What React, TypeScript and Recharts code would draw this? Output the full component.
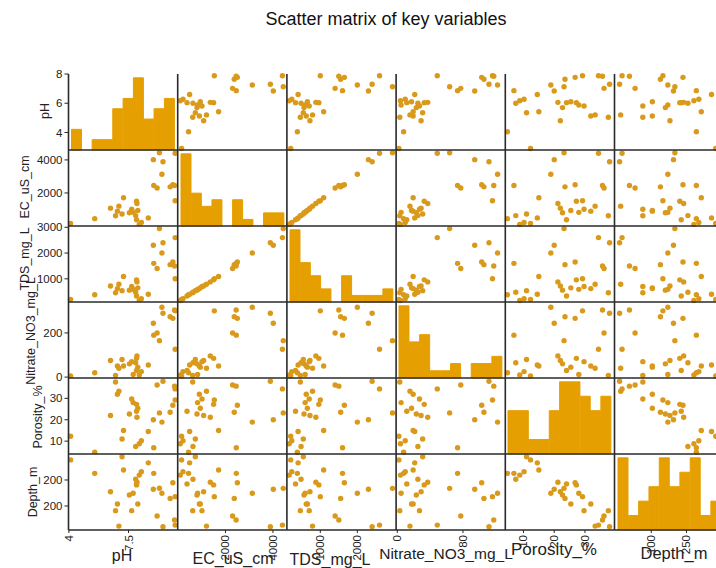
import React from 'react';
import { ScatterChart, Scatter, BarChart, Bar, XAxis, YAxis } from 'recharts';

const variables = ['pH', 'EC_uS_cm', 'TDS_mg_L', 'Nitrate_NO3_mg_L', 'Porosity_%', 'Depth_m'];

// one entry per sample, same order in every array
const ph = [4.05, 6.86, 6.0, 6.17, 6.27, 5.35, 2.9, 6.6, 5.42, 7.25, 6.84, 6.06, 4.8, 5.7, 7.13, 7.64, 6.04, 6.1, 7.77, 6.04, 5.88, 7.88, 5.81, 5.13, 5.2, 7.88, 7.85, 7.02, 5.04, 7.3];
const ec = [445, 2455, 630, 97, 210, 730, 150, 490, 1710, 3130, 4015, 1360, 1080, 800, 4435, 2370, 380, 940, 2500, 1500, 825, 1530, 1010, 900, 1200, 4400, 2450, 2300, 620, 3890];
const tds = [380, 1600, 480, 160, 230, 540, 200, 400, 1090, 2000, 2300, 880, 720, 560, 2950, 1550, 330, 650, 1650, 960, 590, 1000, 700, 620, 790, 2600, 1500, 1400, 460, 2400];
const nitrate = [20, 190, 65, 10, 25, 80, 5, 55, 50, 316, 244, 96, 75, 60, 165, 273, 30, 45, 266, 85, 12, 300, 70, 50, 40, 126, 304, 200, 8, 289];
const porosity = [4.8, 6.9, 7.5, 8.8, 10.2, 11.0, 12.3, 14.5, 15.0, 18.9, 20.0, 21.2, 22.0, 22.7, 23.2, 23.5, 24.0, 25.4, 26.8, 27.2, 28.0, 29.2, 29.7, 31.9, 33.3, 34.4, 35.7, 36.2, 37.6, 38.0];
const depth = [241, 241, 217, 234, 248, 309, 296, 284, 255, 160, 176, 205, 166, 153, 180, 139, 198, 116, 203, 194, 160, 146, 89, 116, 26, 30, 51, 67, 89, 23];

// histogram counts on the diagonal (10 bins each)
const phCounts = [2, 0, 1, 1, 4, 5, 7, 3, 4, 5];
const ecCounts = [11, 5, 3, 4, 0, 4, 1, 0, 2, 2];
const tdsCounts = [11, 6, 4, 2, 0, 4, 1, 1, 1, 2];
const nitrateCounts = [10, 5, 6, 1, 1, 2, 0, 2, 2, 3];
const porosityCounts = [3, 3, 1, 1, 3, 5, 5, 4, 3, 4];
const depthCounts = [5, 1, 2, 3, 5, 3, 4, 5, 1, 2];

const domains: [number, number][] = [[2.8, 8], [0, 4600], [100, 3050], [-4, 340], [4, 39.5], [10, 320]];

// tick values and the labels printed at them
const yTicks = [[8, 6, 4], [4000, 2000], [3000, 2000, 1000], [200, 0], [30, 20, 10], [214, 108]];
const yTickLabels = [['8', '6', '4'], ['4000', '2000'], ['3000', '2000', '1000'], ['200', '0'], ['30', '20', '10'], ['200', '200']];
const xTicks = [[2.82, 5.66], [2000, 4000], [1000, 2000], [0, 207], [10, 20, 30], [113, 213]];
const xTickLabels = [['4', '7.5'], ['2000', '4000'], ['1000', '2000'], ['0', '80'], ['10', '20', '30'], ['100', '250']];

const columns = [ph, ec, tds, nitrate, porosity, depth];
const counts = [phCounts, ecCounts, tdsCounts, nitrateCounts, porosityCounts, depthCounts];

const LEFT = 68.5;
const TOP = 74;
const PW = 109.2;
const PH = 76;
const AXIS_W = 68.5;
const AXIS_H = 38;
const BAR = '#E69F00';
const DOT = '#D99A1C';
const INK = '#222';
const FONT = '"Liberation Sans", Arial, sans-serif';

const yTitles = [
  { x: 45, y: 111 },
  { x: 25, y: 187 },
  { x: 25, y: 259 },
  { x: 31, y: 331 },
  { x: 38, y: 417 },
  { x: 33, y: 492 },
];
const xTitles = [
  { x: 122, y: 561, size: 16 },
  { x: 233, y: 564, size: 16 },
  { x: 330, y: 565, size: 16 },
  { x: 446, y: 559, size: 15.5 },
  { x: 554, y: 555, size: 17 },
  { x: 674, y: 559, size: 16.5 },
];

const makeXTick = (labels: string[]) => (props: any) => {
  const { x, y, index } = props;
  return (
    <text
      x={x}
      y={y}
      transform={`rotate(-90 ${x} ${y})`}
      textAnchor="end"
      dominantBaseline="central"
      fontSize={11.5}
      fill={INK}
    >
      {labels[index]}
    </text>
  );
};

const yAxisProps = (row: number) => ({
  type: 'number' as const,
  domain: domains[row],
  allowDataOverflow: true,
  ticks: yTicks[row],
  interval: 0 as const,
  width: AXIS_W,
  axisLine: false,
  tickLine: { stroke: INK },
  tickSize: 4,
  tickMargin: 2,
  tick: { fontSize: 11.5, fill: INK },
  tickFormatter: (_v: number, i: number) => yTickLabels[row][i],
});

const xAxisProps = (col: number) => ({
  type: 'number' as const,
  domain: domains[col],
  allowDataOverflow: true,
  ticks: xTicks[col],
  interval: 0 as const,
  height: AXIS_H,
  axisLine: false,
  tickLine: { stroke: INK },
  tickSize: 3,
  tickMargin: 2,
  tick: makeXTick(xTickLabels[col]),
});

const margin = { top: 0, right: 0, bottom: 0, left: 0 };
const layer: React.CSSProperties = { position: 'absolute', left: 0, top: 0 };

const Histogram = ({ row, width, withY }: { row: number; width: number; withY: boolean }) => {
  const bins = counts[row].map((c, k) => ({ bin: k, count: c }));
  const max = Math.max(...counts[row]);
  return (
    <BarChart width={width} height={PH} data={bins} margin={margin} barCategoryGap={0} barGap={0}>
      {withY && <YAxis yAxisId="scale" {...yAxisProps(row)} />}
      <XAxis xAxisId="bins" dataKey="bin" hide height={0} padding={{ left: 3, right: 3 }} />
      <YAxis yAxisId="count" hide width={0} domain={[0, max / 0.95]} />
      <Bar
        xAxisId="bins"
        yAxisId="count"
        dataKey="count"
        fill={BAR}
        stroke={BAR}
        strokeWidth={1}
        isAnimationActive={false}
      />
    </BarChart>
  );
};

const Panel = ({ row, col }: { row: number; col: number }) => {
  const hasY = col === 0;
  const hasX = row === 5;
  const width = PW + (hasY ? AXIS_W : 0);
  const height = PH + (hasX ? AXIS_H : 0);
  const left = LEFT + col * PW - (hasY ? AXIS_W : 0);
  const top = TOP + row * PH;

  let content;
  if (row === col) {
    content = (
      <>
        <div style={layer}>
          <Histogram row={row} width={width} withY={hasY} />
        </div>
        {hasX && (
          // scale of the variable along the bottom edge, drawn by an empty scatter layer
          <div style={layer}>
            <ScatterChart width={width} height={height} margin={margin}>
              <XAxis dataKey="x" {...xAxisProps(col)} />
              <YAxis dataKey="y" type="number" domain={domains[row]} allowDataOverflow hide />
              <Scatter data={[]} isAnimationActive={false} />
            </ScatterChart>
          </div>
        )}
      </>
    );
  } else {
    const points = columns[col].map((v, k) => ({ x: v, y: columns[row][k] }));
    content = (
      <ScatterChart width={width} height={height} margin={margin}>
        {hasX ? <XAxis dataKey="x" {...xAxisProps(col)} /> : <XAxis dataKey="x" type="number" domain={domains[col]} hide />}
        {hasY ? <YAxis dataKey="y" {...yAxisProps(row)} /> : <YAxis dataKey="y" type="number" domain={domains[row]} hide />}
        <Scatter
          data={points}
          isAnimationActive={false}
          shape={(p: any) => <circle cx={p.cx} cy={p.cy} r={2.7} fill={DOT} />}
        />
      </ScatterChart>
    );
  }

  return <div style={{ position: 'absolute', left, top, width, height }}>{content}</div>;
};

export default function App() {
  const idx = [0, 1, 2, 3, 4, 5];
  return (
    <div
      style={{
        position: 'absolute',
        left: 0,
        top: 0,
        width: 716,
        height: 568,
        overflow: 'hidden',
        background: '#fff',
        fontFamily: FONT,
      }}
    >
      <style>{'.recharts-surface{overflow:visible}'}</style>
      {idx.map((r) => idx.map((c) => <Panel key={`${r}-${c}`} row={r} col={c} />))}
      <svg width={716} height={568} style={{ position: 'absolute', left: 0, top: 0, pointerEvents: 'none' }}>
        <text x={386} y={25} textAnchor="middle" fontSize={18} fill="#111">
          Scatter matrix of key variables
        </text>
        {[0, 1, 2, 3, 4, 5].map((k) => (
          <line key={`v${k}`} x1={LEFT + k * PW} x2={LEFT + k * PW} y1={TOP} y2={TOP + 6 * PH} stroke="#2a2a2a" strokeWidth={1.6} />
        ))}
        {[1, 2, 3, 4, 5, 6].map((k) => (
          <line key={`h${k}`} x1={LEFT} x2={716} y1={TOP + k * PH} y2={TOP + k * PH} stroke="#2a2a2a" strokeWidth={1.6} />
        ))}
        {variables.map((name, k) => (
          <text
            key={`yt${k}`}
            transform={`translate(${yTitles[k].x} ${yTitles[k].y}) rotate(-90)`}
            textAnchor="middle"
            dominantBaseline="central"
            fontSize={12.5}
            fill={INK}
          >
            {name}
          </text>
        ))}
        {variables.map((name, k) => (
          <text key={`xt${k}`} x={xTitles[k].x} y={xTitles[k].y} textAnchor="middle" fontSize={xTitles[k].size} fill={INK}>
            {name}
          </text>
        ))}
      </svg>
    </div>
  );
}
